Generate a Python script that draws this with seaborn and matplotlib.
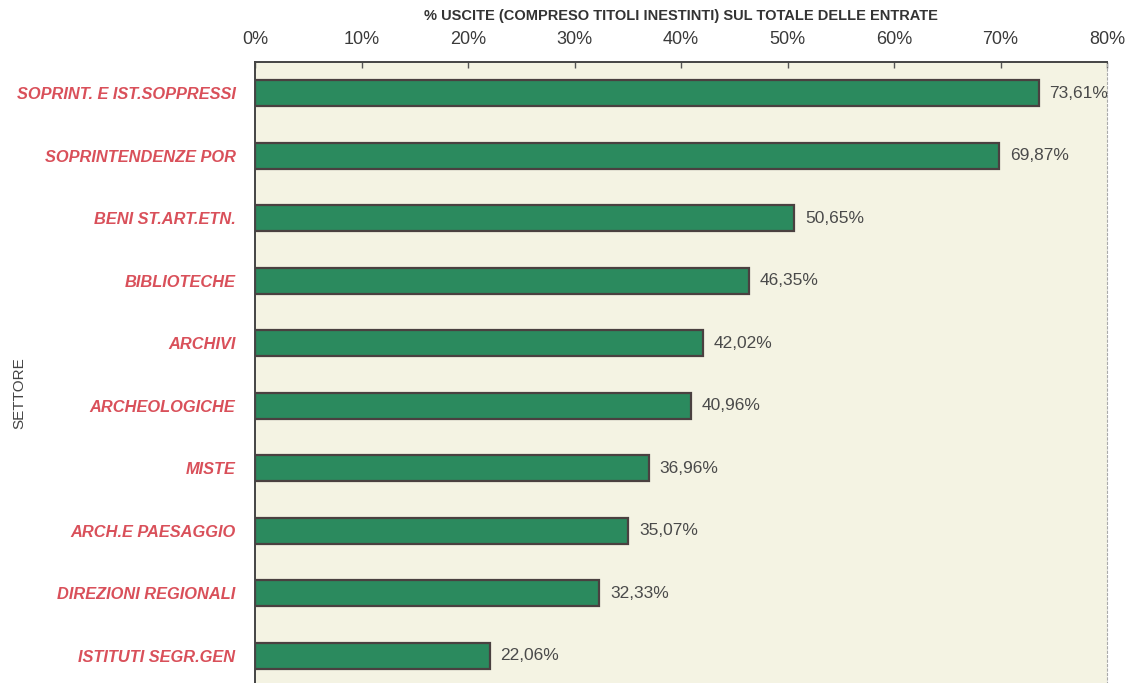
import matplotlib.pyplot as plt
import matplotlib.ticker as mticker
import numpy as np
import pandas as pd
import seaborn as sns

settori = [
    "SOPRINT. E IST.SOPPRESSI",
    "SOPRINTENDENZE POR",
    "BENI ST.ART.ETN.",
    "BIBLIOTECHE",
    "ARCHIVI",
    "ARCHEOLOGICHE",
    "MISTE",
    "ARCH.E PAESAGGIO",
    "DIREZIONI REGIONALI",
    "ISTITUTI SEGR.GEN",
]
percentuali = [73.61, 69.87, 50.65, 46.35, 42.02, 40.96, 36.96, 35.07, 32.33, 22.06]
x_ticks = [0, 10, 20, 30, 40, 50, 60, 70, 80]

df = pd.DataFrame({"settore": settori, "perc": percentuali})

sns.set_style("white")
plt.rcParams["font.family"] = ["Liberation Sans", "DejaVu Sans"]

fig = plt.figure(figsize=(11.27, 6.83), dpi=100)
W, H = 1127, 683
ax = fig.add_axes([255 / W, -4 / H, (1107 - 255) / W, (683 - 62 + 4) / H])
ax.set_facecolor("#f4f3e3")

sns.barplot(data=df, x="perc", y="settore", orient="h", color="#2b8a5e",
            saturation=1, width=0.42, edgecolor="#4a4040", linewidth=1.6, ax=ax)

ax.set_xlim(0, 80)
ax.set_ylim(len(settori) - 0.5, -0.5)
ax.xaxis.tick_top()
ax.xaxis.set_label_position("top")
ax.set_xticks(x_ticks)
ax.set_xticklabels([f"{t}%" for t in x_ticks], fontsize=13, color="#3a3a3a")
ax.tick_params(axis="x", direction="in", length=4, width=1, color="#555555", pad=10)
ax.set_xlabel("% USCITE (COMPRESO TITOLI INESTINTI) SUL TOTALE DELLE ENTRATE",
              fontsize=10.5, fontweight="bold", color="#333333", labelpad=8)

ax.set_yticks(range(len(settori)))
ax.set_yticklabels(settori, fontsize=11.8, fontstyle="italic", fontweight="bold",
                   color="#d9505a")
ax.tick_params(axis="y", which="major", length=0, pad=14)
ax.yaxis.set_minor_locator(mticker.FixedLocator(np.arange(-0.5, len(settori), 1.0)))
ax.tick_params(axis="y", which="minor", length=7, width=1, color="#444444", direction="out")
ax.set_ylabel("SETTORE", fontsize=11, color="#444444")
ax.yaxis.set_label_coords((26 - 255) / 852, 0.47)

for i, v in enumerate(percentuali):
    ax.text(v + 1.0, i, f"{v:.2f}%".replace(".", ","), va="center", ha="left",
            fontsize=12.5, color="#4a4a4a")

for side in ["left", "top"]:
    ax.spines[side].set_color("#444444")
    ax.spines[side].set_linewidth(1.4)
ax.spines["right"].set_color("#aaaaaa")
ax.spines["right"].set_linestyle((0, (2, 2)))
ax.spines["right"].set_linewidth(0.8)
ax.spines["bottom"].set_visible(False)

fig.savefig("out.png", dpi=100)
